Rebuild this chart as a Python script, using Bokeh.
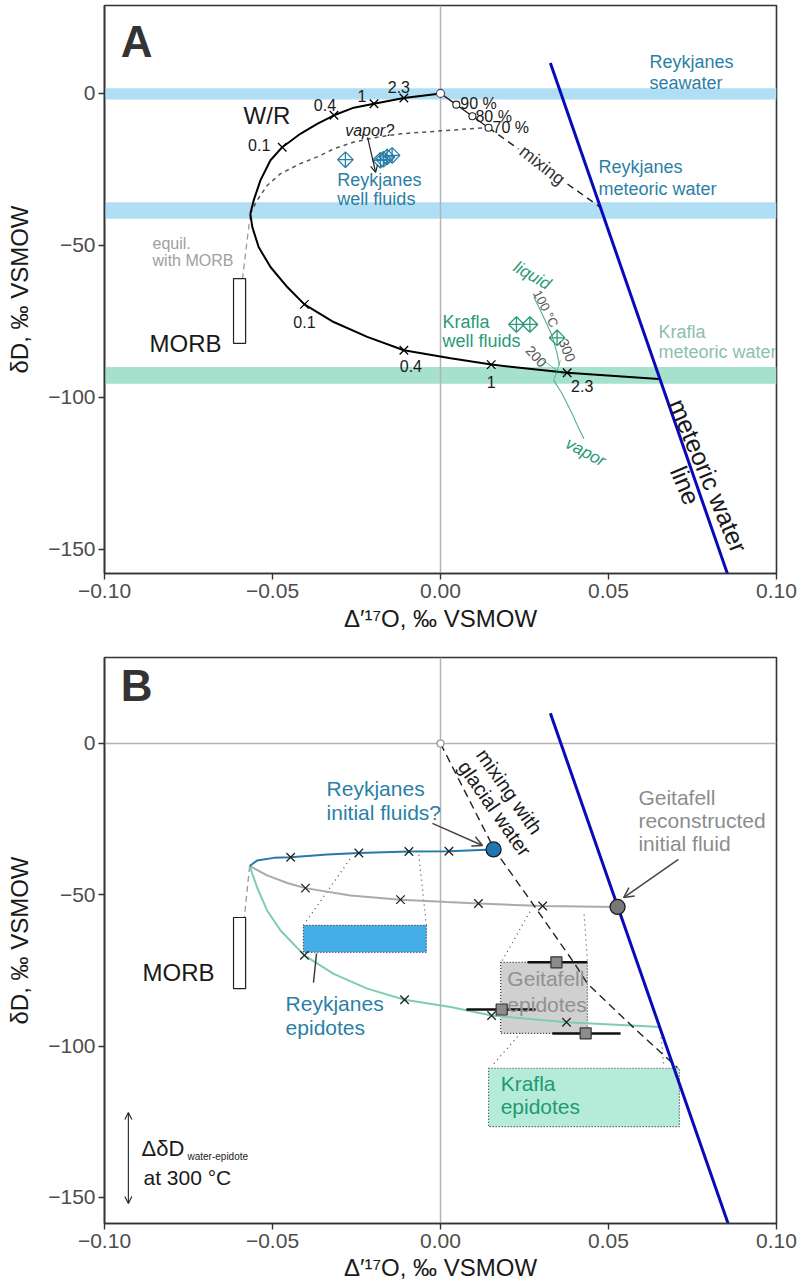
import numpy as np
from bokeh.plotting import figure
from bokeh.layouts import column
from bokeh.models import Range1d, FixedTicker, Span, BoxAnnotation, Arrow, OpenHead
from bokeh.core.properties import value
from bokeh.embed import file_html
from bokeh.resources import INLINE

FONT = "Liberation Sans"

# ---------------- axis ticks ----------------
x_ticks = [-0.10, -0.05, 0.0, 0.05, 0.10]
x_tick_labels = ["\u22120.10", "\u22120.05", "0.00", "0.05", "0.10"]
y_ticks = [0, -50, -100, -150]
y_tick_labels = ["0", "\u221250", "\u2212100", "\u2212150"]

# ---------------- shared data ----------------
mwl_x = [0.0327, 0.0876]          # meteoric water line
mwl_y = [10.0, -165.0]
wr_labels = ["0.1", "0.4", "1", "2.3"]

# ---------------- panel A data ----------------
band_seawater = [-2.0, 1.7]
band_rk_meteoric = [-41.2, -35.8]
band_kr_meteoric = [-95.5, -90.0]

wrA_up_x = [-0.0566, -0.0556, -0.0536, -0.0506, -0.0471, -0.0417, -0.0367, -0.0317, -0.0258, -0.0198, -0.0109, -0.0005, 0.0]
wrA_up_y = [-39.6, -35.2, -28.6, -22.0, -17.7, -13.3, -10.0, -7.2, -4.7, -3.4, -1.5, -0.1, 0.0]
wrA_lo_x = [-0.0566, -0.0560, -0.0541, -0.0506, -0.0456, -0.0405, -0.0318, -0.0218, -0.0109, 0.0030, 0.0151, 0.0377, 0.0650]
wrA_lo_y = [-39.6, -44.0, -50.6, -57.1, -63.7, -69.4, -75.2, -80.1, -84.5, -87.1, -89.2, -91.9, -93.9]
wrA_up_cx = [-0.0471, -0.0317, -0.0198, -0.0109]
wrA_up_cy = [-17.7, -7.2, -3.4, -1.5]
wrA_lo_cx = [-0.0405, -0.0109, 0.0151, 0.0377]
wrA_lo_cy = [-69.4, -84.5, -89.2, -91.9]

vapor_x = [-0.0566, -0.0546, -0.0516, -0.0476, -0.0417, -0.0367, -0.0317, -0.0258, -0.0188, -0.0119, -0.0020, 0.0094, 0.0143]
vapor_y = [-39.6, -35.2, -30.3, -26.4, -23.1, -20.9, -18.2, -16.0, -14.4, -13.3, -12.5, -11.6, -11.3]

seawater_pt = [0.0, 0.0]
rk_meteoric_pt = [0.0476, -37.5]
mix_labels = ["90 %", "80 %", "70 %"]
mix_x = [0.0047, 0.0095, 0.0143]
mix_y = [-3.7, -7.5, -11.3]
mix_gap_x = [0.0232, 0.0378]     # gap in the dashed mixing line behind its label
mix_gap_y = [-18.3, -29.8]

rk_well_x = [-0.0283, -0.0179, -0.0170, -0.0159, -0.0144]
rk_well_y = [-21.8, -22.0, -21.7, -20.9, -20.4]
kr_well_x = [0.0226, 0.0266, 0.0347]
kr_well_y = [-76.0, -76.0, -80.4]

kr_liq_x = [0.0278, 0.0307, 0.0332, 0.0347, 0.0354]
kr_liq_y = [-67.0, -73.6, -79.6, -85.6, -89.5]
kr_vap_x = [0.0337, 0.0362, 0.0392, 0.0412, 0.0427]
kr_vap_y = [-94.4, -98.8, -105.4, -110.3, -113.6]
kr_tie1_x = [0.0298, 0.0372]
kr_tie1_y = [-87.2, -93.1]
kr_tie2_x = [0.0337, 0.0357]
kr_tie2_y = [-94.4, -87.8]

morbA_x = [-0.0616, -0.0580]
morbA_y = [-60.9, -82.2]
morbA_eq_x = [-0.0566, -0.0598]
morbA_eq_y = [-39.6, -69.0]

# ---------------- panel B data ----------------
rk_init = [0.0158, -35.0]
ge_init = [0.0527, -54.0]
glac_x = [0.0, 0.0159, 0.0179, 0.0274, 0.0397, 0.0437, 0.0575, 0.0705]
glac_y = [0.0, -34.7, -38.0, -52.9, -72.4, -79.3, -93.9, -107.1]

rkB_x = [-0.0568, -0.0546, -0.0496, -0.0446, -0.0337, -0.0243, -0.0094, 0.0025, 0.0158]
rkB_y = [-40.5, -38.7, -37.8, -37.6, -36.7, -36.2, -35.7, -35.6, -35.0]
rkB_cx = [-0.0446, -0.0243, -0.0094, 0.0025]
rkB_cy = [-37.6, -36.2, -35.7, -35.6]

geB_x = [-0.0568, -0.0516, -0.0456, -0.0402, -0.0268, -0.0119, 0.0020, 0.0113, 0.0304, 0.0527]
geB_y = [-40.5, -43.6, -46.1, -47.8, -50.2, -51.6, -52.4, -52.9, -53.7, -54.0]
geB_cx = [-0.0402, -0.0119, 0.0113, 0.0304]
geB_cy = [-47.8, -51.6, -52.9, -53.7]

krB_x = [-0.0568, -0.0546, -0.0516, -0.0476, -0.0405, -0.0318, -0.0218, -0.0107, 0.0030, 0.0152, 0.0375, 0.0655]
krB_y = [-40.5, -47.5, -55.2, -61.8, -70.0, -76.1, -81.0, -84.7, -87.1, -89.9, -92.1, -93.7]
krB_cx = [-0.0405, -0.0107, 0.0152, 0.0375]
krB_cy = [-70.0, -84.7, -89.9, -92.1]

rk_epi = dict(left=-0.0408, right=-0.0042, top=-60.1, bottom=-69.0)
ge_epi = dict(left=0.0179, right=0.0437, top=-72.3, bottom=-95.8)
kr_epi = dict(left=0.0143, right=0.0711, top=-107.3, bottom=-126.6)

ge_epi_x = [0.0345, 0.0182, 0.0432]
ge_epi_y = [-72.3, -87.9, -95.8]
ge_epi_xlo = [0.0259, 0.0077, 0.0333]
ge_epi_xhi = [0.0437, 0.0283, 0.0536]

rk_link_x0 = [-0.0408, -0.0042]; rk_link_y0 = [-60.1, -60.1]
rk_link_x1 = [-0.0268, -0.0065]; rk_link_y1 = [-38.0, -36.3]
ge_link_x0 = [0.0184, 0.0437]; ge_link_y0 = [-71.7, -71.7]
ge_link_x1 = [0.0268, 0.0427]; ge_link_y1 = [-55.2, -55.7]
kr_link_x0 = [0.0159, 0.0664]; kr_link_y0 = [-105.8, -105.7]
kr_link_x1 = [0.0275, 0.0655]; kr_link_y1 = [-91.0, -95.4]

morbB_x = [-0.0616, -0.0580]
morbB_y = [-57.5, -81.0]
morbB_eq_x = [-0.0568, -0.0595]
morbB_eq_y = [-40.5, -69.4]

dd_arrow_x = -0.0929
dd_arrow_y = [-121.9, -152.0]

# ---------------- colours ----------------
C_RK = "#2b7fa6"
C_KR = "#2a9a7a"
C_KR_LIGHT = "#8cbfae"
C_GREY_TXT = "#8c8c8c"
C_MWL = "#0a0ab8"
C_BAND_BLUE = "#b0def5"
C_BAND_GREEN = "#a6e1cd"


def make_fig(yr, height, top, bottom, label_standoff):
    p = figure(width=798, height=height, x_range=Range1d(-0.1, 0.1), y_range=Range1d(*yr),
               output_backend="svg", toolbar_location=None, title=None,
               min_border_left=104, min_border_right=22, min_border_top=top, min_border_bottom=bottom)
    p.xgrid.visible = False
    p.ygrid.visible = False
    p.outline_line_color = "#333333"
    p.outline_line_width = 1.6
    p.xaxis.ticker = FixedTicker(ticks=x_ticks)
    p.xaxis.major_label_overrides = dict(zip(x_ticks, x_tick_labels))
    p.yaxis.ticker = FixedTicker(ticks=y_ticks)
    p.yaxis.major_label_overrides = dict(zip(y_ticks, y_tick_labels))
    p.xaxis.axis_label = "\u0394\u2032\u00b9\u2077O, \u2030 VSMOW"
    p.yaxis.axis_label = "\u03b4D, \u2030 VSMOW"
    for ax in (p.xaxis[0], p.yaxis[0]):
        ax.axis_line_color = "#333333"
        ax.axis_line_width = 1.6
        ax.major_tick_line_color = "#333333"
        ax.major_tick_line_width = 1.4
        ax.major_tick_out = 6
        ax.major_tick_in = 0
        ax.minor_tick_line_color = None
        ax.major_label_text_font = FONT
        ax.major_label_text_font_size = "21px"
        ax.major_label_text_color = "#4d4d4d"
        ax.axis_label_text_font = FONT
        ax.axis_label_text_font_size = "24px"
        ax.axis_label_text_font_style = "normal"
        ax.axis_label_text_color = "#1a1a1a"
    p.xaxis.major_label_standoff = 4
    p.yaxis.major_label_standoff = 3
    p.xaxis.axis_label_standoff = label_standoff
    p.yaxis.axis_label_standoff = 12
    return p


def txt(p, x, y, s, size, color, align="left", baseline="middle", angle=0.0,
        style="normal", xo=0, yo=0):
    p.text(x=[x], y=[y], text=[s], text_font=value(FONT), text_font_size=f"{size}px",
           text_color=color, text_align=align, text_baseline=baseline,
           angle=np.radians(angle), text_font_style=style, x_offset=xo, y_offset=yo)


def arrow(p, x0, y0, x1, y1, color="#222222", width=1.3, size=9, both=False):
    head = lambda: OpenHead(size=size, line_color=color, line_width=width)
    p.add_layout(Arrow(start=head() if both else None, end=head(),
                       x_start=x0, y_start=y0, x_end=x1, y_end=y1,
                       line_color=color, line_width=width))


CROSS = 12

# =========================== PANEL A ===========================
pA = make_fig((-157.9, 28.9), 640, 5, 67, 4)

for band, col in ((band_seawater, C_BAND_BLUE), (band_rk_meteoric, C_BAND_BLUE),
                  (band_kr_meteoric, C_BAND_GREEN)):
    pA.add_layout(BoxAnnotation(bottom=band[0], top=band[1], fill_color=col, fill_alpha=1.0,
                                line_color=None, level="underlay"))
pA.add_layout(Span(location=0, dimension="height", line_color="#b3b3b3", line_width=1.5, level="underlay"))

# MORB equilibration + box
pA.line(morbA_eq_x, morbA_eq_y, line_color="#9a9a9a", line_width=1.3, line_dash="6 4")
pA.quad(left=[morbA_x[0]], right=[morbA_x[1]], top=[morbA_y[0]], bottom=[morbA_y[1]],
        fill_color="white", line_color="#222222", line_width=1.2)

# vapor? dashed curve
pA.line(vapor_x, vapor_y, line_color="#555555", line_width=1.5, line_dash="4 4")

# W/R curves
pA.line(wrA_up_x, wrA_up_y, line_color="black", line_width=2)
pA.line(wrA_lo_x, wrA_lo_y, line_color="black", line_width=2)
pA.scatter(wrA_up_cx, wrA_up_cy, marker="x", size=CROSS, line_color="black", line_width=1.3)
pA.scatter(wrA_lo_cx, wrA_lo_cy, marker="x", size=CROSS, line_color="black", line_width=1.3)
up_off = [(-23, -2), (-9, -10), (-12, -8), (-5, -11)]
lo_off = [(0, 18), (7, 16), (0, 17), (15, 13)]
for i, lab in enumerate(wr_labels):
    txt(pA, wrA_up_cx[i], wrA_up_cy[i], lab, 16, "#1a1a1a", align="center", xo=up_off[i][0], yo=up_off[i][1])
    txt(pA, wrA_lo_cx[i], wrA_lo_cy[i], lab, 16, "#1a1a1a", align="center", xo=lo_off[i][0], yo=lo_off[i][1])

# mixing seawater - meteoric water
pA.line([seawater_pt[0]] + mix_x, [seawater_pt[1]] + mix_y, line_color="#222222", line_width=1.3)
pA.line([mix_x[-1], mix_gap_x[0]], [mix_y[-1], mix_gap_y[0]], line_color="#222222",
        line_width=1.5, line_dash="7 5")
pA.line([mix_gap_x[1], rk_meteoric_pt[0]], [mix_gap_y[1], rk_meteoric_pt[1]], line_color="#222222",
        line_width=1.5, line_dash="7 5")
pA.scatter(mix_x, mix_y, marker="circle", size=7, fill_color="white", line_color="#222222", line_width=1.1)
pA.scatter([seawater_pt[0]], [seawater_pt[1]], marker="circle", size=8, fill_color="white",
           line_color="#444444", line_width=1.1)
mix_off = [(4, -1), (3, 0), (4, 0)]
for i, lab in enumerate(mix_labels):
    txt(pA, mix_x[i], mix_y[i], lab, 16, "#1a1a1a", xo=mix_off[i][0], yo=mix_off[i][1])

# Krafla liquid/vapor
pA.line(kr_liq_x, kr_liq_y, line_color=C_KR, line_width=1.1, line_alpha=0.8)
pA.line(kr_vap_x, kr_vap_y, line_color=C_KR, line_width=1.1, line_alpha=0.8)
pA.line(kr_tie1_x, kr_tie1_y, line_color=C_KR, line_width=1.0, line_alpha=0.6)
pA.line(kr_tie2_x, kr_tie2_y, line_color=C_KR, line_width=1.0, line_alpha=0.6)

# well fluids
pA.scatter(rk_well_x, rk_well_y, marker="square_x", angle=np.pi / 4, size=11, fill_color=None,
           line_color=C_RK, line_width=1.3)
pA.scatter(kr_well_x, kr_well_y, marker="square_x", angle=np.pi / 4, size=11, fill_color=None,
           line_color=C_KR, line_width=1.3)

# meteoric water line
pA.line(mwl_x, mwl_y, line_color=C_MWL, line_width=3)

# vapor? arrow
arrow(pA, -0.0217, -14.5, -0.0193, -26.0, color="#222222", width=1.2, size=7)

# texts A
txt(pA, -0.0952, 17.1, "A", 44, "#333333", style="bold")
txt(pA, -0.0586, -7.2, "W/R", 24, "#1a1a1a")
txt(pA, -0.0211, -12.2, "vapor?", 16, "#1a1a1a", align="center", style="italic")
txt(pA, -0.0307, -28.6, "Reykjanes", 18, C_RK)
txt(pA, -0.0307, -34.9, "well fluids", 18, C_RK)
txt(pA, 0.0622, 10.2, "Reykjanes", 18, C_RK)
txt(pA, 0.0622, 3.3, "seawater", 18, C_RK)
txt(pA, 0.0470, -24.3, "Reykjanes", 18, C_RK)
txt(pA, 0.0470, -31.3, "meteoric water", 18, C_RK)
txt(pA, 0.0303, -23.6, "mixing", 18, "#333333", align="center", angle=-38)
txt(pA, -0.0857, -49.3, "equil.", 16, "#a0a0a0")
txt(pA, -0.0857, -54.9, "with MORB", 16, "#a0a0a0")
txt(pA, -0.0866, -82.1, "MORB", 24, "#1a1a1a")
txt(pA, 0.0006, -75.3, "Krafla", 18, C_KR)
txt(pA, 0.0006, -81.6, "well fluids", 18, C_KR)
txt(pA, 0.0649, -78.6, "Krafla", 18, C_KR_LIGHT)
txt(pA, 0.0649, -85.2, "meteoric water", 18, C_KR_LIGHT)
txt(pA, 0.0273, -59.9, "liquid", 17, C_KR, align="center", angle=-30, style="italic")
txt(pA, 0.0432, -118.0, "vapor", 17, C_KR, align="center", angle=-28, style="italic")
txt(pA, 0.0313, -70.8, "100 \u00b0C", 13, "#555555", align="center", angle=-63)
txt(pA, 0.0377, -84.5, "300", 14, "#555555", align="center", angle=-68)
txt(pA, 0.0285, -86.5, "200", 14, "#555555", align="center", angle=-47)
txt(pA, 0.0797, -125.7, "meteoric water", 25, "#1a1a1a", align="center", angle=-67)
txt(pA, 0.0729, -128.9, "line", 25, "#1a1a1a", align="center", angle=-67)

# =========================== PANEL B ===========================
pB = make_fig((-158.6, 28.4), 647, 17, 64, 3)
pB.add_layout(Span(location=0, dimension="height", line_color="#b3b3b3", line_width=1.5, level="underlay"))
pB.add_layout(Span(location=0, dimension="width", line_color="#b3b3b3", line_width=1.5, level="underlay"))

# dotted connectors
for xs0, ys0, xs1, ys1 in ((rk_link_x0, rk_link_y0, rk_link_x1, rk_link_y1),
                           (ge_link_x0, ge_link_y0, ge_link_x1, ge_link_y1),
                           (kr_link_x0, kr_link_y0, kr_link_x1, kr_link_y1)):
    pB.segment(x0=xs0, y0=ys0, x1=xs1, y1=ys1, line_color="#444444", line_width=1.2, line_dash="1 4")

# epidote boxes
for box, col in ((rk_epi, "#45aee8"), (ge_epi, "#d0d0d0"), (kr_epi, "#b5ecd9")):
    pB.quad(left=[box["left"]], right=[box["right"]], top=[box["top"]], bottom=[box["bottom"]],
            fill_color=col, line_color="#333333", line_width=1.2, line_dash="1 2")

# MORB
pB.line(morbB_eq_x, morbB_eq_y, line_color="#9a9a9a", line_width=1.3, line_dash="6 4")
pB.quad(left=[morbB_x[0]], right=[morbB_x[1]], top=[morbB_y[0]], bottom=[morbB_y[1]],
        fill_color="white", line_color="#222222", line_width=1.2)

# W/R curves
pB.line(krB_x, krB_y, line_color="#7ccdb1", line_width=2)
pB.line(geB_x, geB_y, line_color="#aaaaaa", line_width=2)
pB.line(rkB_x, rkB_y, line_color="#2a78ab", line_width=2)
for cx, cy in ((krB_cx, krB_cy), (geB_cx, geB_cy), (rkB_cx, rkB_cy)):
    pB.scatter(cx, cy, marker="x", size=CROSS, line_color="#222222", line_width=1.3)

# mixing with glacial water
pB.line(glac_x, glac_y, line_color="#222222", line_width=1.4, line_dash="8 5")
pB.scatter([0.0], [0.0], marker="circle", size=7, fill_color="white", line_color="#888888", line_width=1.1)

# Geitafell epidote data with error bars
pB.segment(x0=ge_epi_xlo, y0=ge_epi_y, x1=ge_epi_xhi, y1=ge_epi_y, line_color="#111111", line_width=2.5)
pB.scatter(ge_epi_x, ge_epi_y, marker="square", size=11, fill_color="#8c8c8c", line_color="#333333", line_width=1.2)

# meteoric water line
pB.line(mwl_x, mwl_y, line_color=C_MWL, line_width=3)

# initial fluids
pB.scatter([rk_init[0]], [rk_init[1]], marker="circle", size=15, fill_color="#1f78b4", line_color="#1a1a1a", line_width=1.3)
pB.scatter([ge_init[0]], [ge_init[1]], marker="circle", size=15, fill_color="#777777", line_color="#1a1a1a", line_width=1.3)

# arrows
arrow(pB, -0.0024, -26.4, 0.0125, -33.7, color="#444444", width=1.5, size=10)
arrow(pB, 0.0708, -38.3, 0.0545, -50.9, color="#444444", width=1.5, size=10)
pB.line([-0.0369, -0.0378], [-69.4, -79.0], line_color="#333333", line_width=1.4)
arrow(pB, dd_arrow_x, dd_arrow_y[0], dd_arrow_x, dd_arrow_y[1], color="#222222", width=1.1, size=7, both=True)

# texts B
txt(pB, -0.0952, 19.2, "B", 44, "#333333", style="bold")
txt(pB, -0.0887, -75.7, "MORB", 24, "#1a1a1a")
txt(pB, -0.0339, -14.9, "Reykjanes", 21, C_RK)
txt(pB, -0.0339, -22.8, "initial fluids?", 21, C_RK)
txt(pB, -0.0461, -85.9, "Reykjanes", 21, C_RK)
txt(pB, -0.0461, -93.8, "epidotes", 21, C_RK)
txt(pB, 0.0589, -17.8, "Geitafell", 21, C_GREY_TXT)
txt(pB, 0.0589, -25.4, "reconstructed", 21, C_GREY_TXT)
txt(pB, 0.0589, -33.0, "initial fluid", 21, C_GREY_TXT)
txt(pB, 0.0199, -77.6, "Geitafell", 21, "#909090")
txt(pB, 0.0199, -86.2, "epidotes", 21, "#909090")
txt(pB, 0.0179, -112.3, "Krafla", 21, "#1f9a70")
txt(pB, 0.0179, -119.9, "epidotes", 21, "#1f9a70")
txt(pB, 0.0205, -15.9, "mixing with", 20, "#1a1a1a", align="center", angle=-55)
txt(pB, 0.0161, -21.5, "glacial water", 20, "#1a1a1a", align="center", angle=-55)
txt(pB, -0.0890, -133.8, "\u0394\u03b4D", 22, "#1a1a1a")
txt(pB, -0.0753, -136.3, "water-epidote", 10, "#1a1a1a")
txt(pB, -0.0884, -143.4, "at 300 \u00b0C", 21, "#1a1a1a")

layout = column(pA, pB, spacing=0)
open("out.html", "w").write(file_html(layout, INLINE))
